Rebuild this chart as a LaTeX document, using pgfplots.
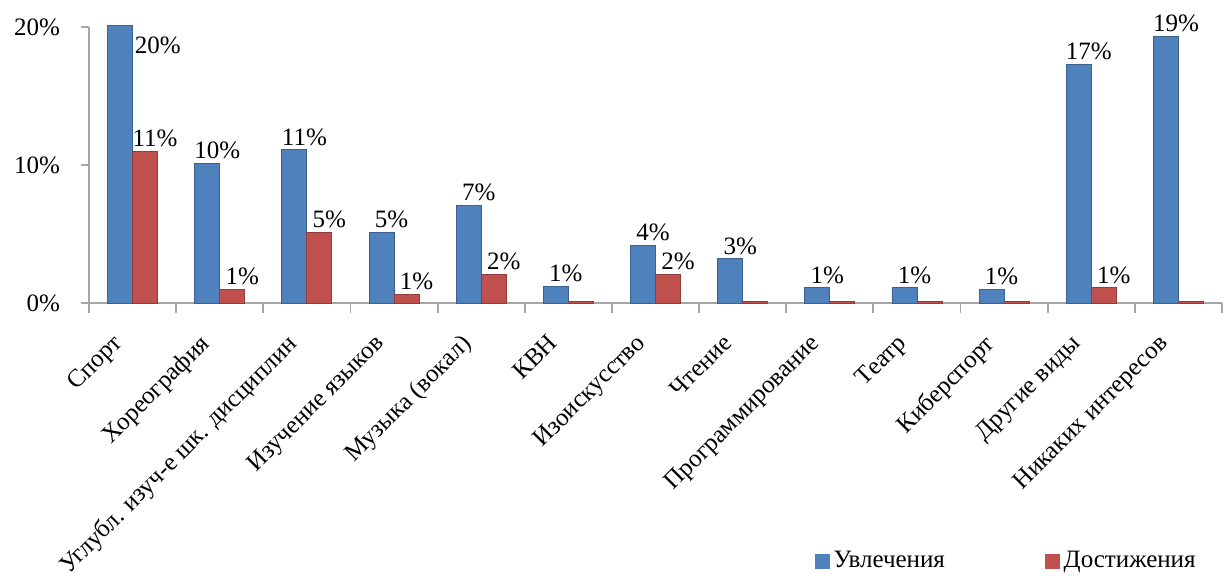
\documentclass[border=0pt]{standalone}
\usepackage{pgfplots}
\pgfplotsset{compat=1.18}
\usepackage{pgfplotstable}
\usepackage{fontspec}
\setmainfont{Liberation Serif}
\definecolor{cblue}{HTML}{4F81BD}
\definecolor{cred}{HTML}{C0504D}
\definecolor{axgray}{HTML}{A6A6A6}

\pgfplotstableread{
x y lab
0 20.1 {}
1 10.1 10\%
2 11.1 11\%
3 5.1 5\%
4 7.1 7\%
5 1.2 1\%
6 4.2 4\%
7 3.2 3\%
8 1.1 1\%
9 1.1 1\%
10 1.0 1\%
11 17.3 17\%
12 19.3 19\%
}\blueT

\pgfplotstableread{
x y lab
0 11.0 11\%
1 1.0 1\%
2 5.1 5\%
3 0.6 1\%
4 2.1 2\%
5 0.1 {}
6 2.1 2\%
7 0.1 {}
8 0.1 {}
9 0.1 {}
10 0.1 {}
11 1.1 1\%
12 0.1 {}
}\redT

\newcommand{\fs}{\fontsize{12.5}{15}\selectfont}
\newcommand{\fx}{\fontsize{12.5}{15}\selectfont}

\begin{document}
\begin{tikzpicture}
\begin{axis}[
  scale only axis,
  width=566.5pt, height=138pt,
  xmin=-0.5, xmax=12.5, ymin=0, ymax=20,
  ybar=0pt, bar width=12.5pt,
  axis x line*=bottom, axis y line*=left,
  axis line style={draw=axgray, line width=0.9pt},
  tick align=outside,
  major tick length=4pt, minor tick length=5pt,
  tick style={draw=axgray, line width=0.9pt},
  major x tick style={draw=none},
  ytick={0,10,20}, yticklabels={0\%,10\%,20\%},
  yticklabel style={font=\fs, xshift=-7pt},
  xtick={0,...,12},
  minor xtick={-0.5,0.5,...,12.5},
  xticklabels={Спорт, Хореография, Углубл. изуч-е шк. дисциплин, Изучение языков, Музыка (вокал), КВН, Изоискусство, Чтение, Программирование, Театр, Киберспорт, Другие виды, Никаких интересов},
  xticklabel style={font=\fx, rotate=45, anchor=north east, inner sep=0pt, yshift=0pt, xshift=-15pt},
  clip=false,
  nodes near coords,
  point meta=explicit symbolic,
  every node near coord/.append style={font=\fs, text=black, xshift=5pt, inner sep=2pt},
  legend columns=2,
  legend style={draw=none, fill=none, font=\fs, at={(rel axis cs:1,0)}, anchor=south east, yshift=-138pt, xshift=-8pt,
    /tikz/every even column/.append style={column sep=48pt}},
]
\addplot+[draw=cblue!75!black, line width=0.4pt, fill=cblue,
  legend image code/.code={\fill[cblue] (0pt,-3.5pt) rectangle (7pt,3.5pt);}]
  table[x=x, y=y, meta=lab] {\blueT};
\addlegendentry{Увлечения}
\addplot+[draw=cred!75!black, line width=0.4pt, fill=cred,
  legend image code/.code={\fill[cred] (0pt,-3.5pt) rectangle (7pt,3.5pt);}]
  table[x=x, y=y, meta=lab] {\redT};
\addlegendentry{Достижения}
\node[anchor=west, font=\fs, inner sep=1pt] at (axis cs:0,18.7) {20\%};
\coordinate (bl) at (rel axis cs:0,0);
\end{axis}
\pgfresetboundingbox
\path ([shift={(-44.5pt,-139pt)}]bl) rectangle ++(612pt,290.5pt);
\end{tikzpicture}
\end{document}
